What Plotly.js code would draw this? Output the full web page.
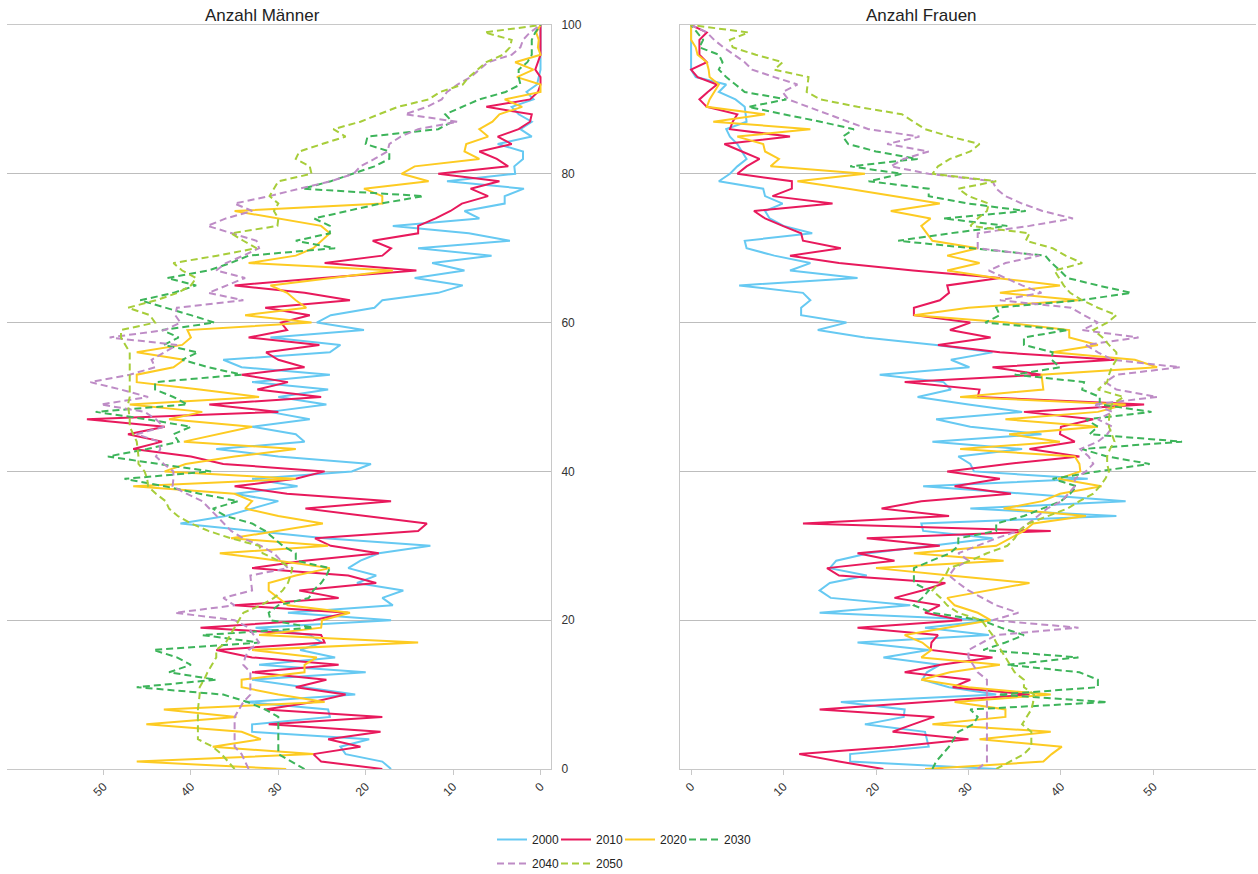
<!DOCTYPE html>
<html><head><meta charset="utf-8">
<script src="https://cdn.plot.ly/plotly-3.0.1.min.js"></script>
<style>html,body{margin:0;padding:0;background:#fff}#chart{width:1258px;height:874px}</style>
</head><body><div id="chart"></div>
<script>
const years = ['2000','2010','2020','2030','2040','2050'];
const colors = ['#66c9f2','#e8195c','#fdcb22','#3db45a','#be8cc6','#a7cd3a'];
const dashes = ['solid','solid','solid','7px,4px','7px,4px','7px,4px'];
const ages = Array.from({length:101},(_, i)=>i);
const xTicks = [0,10,20,30,40,50];
const yTicks = [0,20,40,60,80,100];

const men2000 = [17.1,18.1,22.3,22.9,19.6,33,33,24.1,24.3,33.8,
21.2,27,33,20,32.2,23.5,27.5,25,26.4,32.6,
17.1,28.9,16.9,18.1,15.7,21,18.8,22,20.6,18.5,
12.6,24.7,33,41.2,36,33,30,35,27.8,33,
21.6,19.4,30,37.1,27,28,33,26.4,31,24.5,
30,24.3,33,24.1,34.2,36.3,24.1,22.9,30.9,20.2,
25.6,24,19,18.1,11.7,8.9,14.4,8.7,12.4,5.6,
14,3.5,8.2,16.9,7,8.7,4.1,4.1,1.9,10.7,
2.9,3,2,2,4.9,1,2.3,1,2.5,3.3,
0.8,1.6,0.4,0.2,0,0,0,0,0,0,0];
const men2010 = [18.1,25.1,26,20.6,24.3,18.3,31.1,18.1,31.5,26,
22.3,28,24.5,33,23.1,33,37.1,24.7,25.1,38.9,
26,22,35,23.1,27.6,18.8,22,33,27,18.5,
24,25.8,14,13,20,26.9,17.1,29,35,28,
24.7,36.3,40,46.6,43.3,47.2,43,51.9,30,37.9,
25.1,32.4,28.9,34.2,27,30,31.4,25.3,33.4,29,
29.7,26.4,31.5,21.8,27,35,25,14.2,24.7,18.1,
17.1,19.2,14,14,12,10.3,9,6,8,4.7,
11.7,3.7,5,7,3.3,4.9,2.5,1.2,1,6.2,
1.2,0.3,0,0,0.6,0.3,0,0,0,0,0];
const men2020 = [29.1,46.2,26,37.5,32,34.2,45.1,34.8,43.1,24.7,
30,34.2,34.2,27,27,25.6,33,14,32.2,25.1,
25,21.8,28.9,30,31.1,31.1,28,24.1,30,36.7,
24.3,35.4,30,24.9,30,33.8,33,35,46.6,28,
43,40.6,35,28,40.8,37,33,42.5,38.7,47,
32.2,39,46.2,46.2,42,40.8,46.2,41,40,40.4,
26.2,33.8,26.8,28,29,30.9,24,16.9,33.4,28,
26,25,24.1,25.1,30,35,18.1,18.1,20.2,12.8,
15.9,14.4,7,8.7,8.5,6,7,5.5,4.7,2.1,
4.1,0,0,2.7,0.8,2.9,0,0.3,0.2,0.5,0];
const men2030 = [27,28.5,30,30,30,30,30,30,31.5,33.5,
36.3,46.2,37.1,42.5,40,41.6,44.3,32.2,38.7,26,
30.9,31.1,30,26.5,26,25.1,24.5,24.1,28,28,
29.5,30.5,31.5,33,36,37.5,34.6,39,43,47.6,
37.7,43.7,49.5,45,41.4,42,40,45,50.9,40.4,
42,44.1,44.1,34.2,38,41,39.2,43.1,41.4,43.3,
37.3,40,43,45.8,42,39.4,42.7,38,35.5,33.4,
23.5,28,24.1,24.1,25.9,22,18.3,13.4,27.2,24,
21.6,19,17.3,17.3,20,19.8,11.7,10.1,10.9,9,
7,4,2.3,2.5,2.5,1.5,1,1,1,0.6,0];
const men2040 = [33.4,33.8,34.2,35,35,35,35,35,34.5,34,
33.2,33.2,33.2,33.2,34,33.8,33.4,32.2,32.8,33.4,
35,41.8,35,36.3,33,33.1,33.2,28.9,29.7,30.5,
32,34,35.4,36.2,37,37.8,38.7,40.5,42.1,42,
42,43.1,44,43.5,43.7,46.2,43.1,44,45.3,50.3,
44.9,48,51.5,47,44.1,44.5,43,41.6,49.3,43,
41.2,41.8,41.6,34,38,36,33.8,37.1,36,34,
32.2,32.5,35.4,38.1,36,33,35,31,27.6,24,
21.4,20.6,19,17.5,17.3,16,14,9.5,15.5,13,
11.3,10.7,9.5,8,7,6,3.3,2.3,2,1.2,0];
const men2050 = [35,35.8,36.5,37.5,39.2,39.2,39.2,39.2,39.2,39.1,
39,39,38.5,38.1,37.6,37.1,37.1,36,35.5,35,
34.5,34,32,30.5,29.5,28.9,28.6,28.4,30,31.8,
32.2,35.4,38,40,41.5,42.5,42.9,44,44.9,45,
45.3,46,46,46.1,46.2,46.6,47,47,47.1,47.2,
47,47,47,47,47,47,47,47.5,48,48,
44.1,44.7,47.2,44,41.5,40,39.4,41,42,37,
32.5,34,35.4,30.1,30,30.5,30,31,30.5,30,
26.2,26.4,28,27.6,25,22.3,23.7,20.6,18.5,16.3,
12.8,11.5,8.9,8.2,7.2,6.2,4.3,3.5,3.3,6.4,0];

const women2000 = [33,17.2,17.2,25.7,25.5,25.3,18.8,23,23.1,16.2,
33,27.9,25,25.5,26.9,20.8,25.7,18,32.2,25.3,
32.6,13.9,23.7,15.1,13.9,15,19,15,15.7,19.2,
26,32.6,25.1,24.9,46,30.2,47,36,25.1,42.9,
30.6,30.2,28.9,35.8,26.1,37.9,30.2,26.5,35.8,30,
24.5,28.1,27.3,20.4,30.1,28.1,32.6,26.5,18.8,13.7,
16.8,11.9,11.9,12.9,12.1,5.2,18,10.7,12.9,9,
6,5.8,13.1,10,8.5,8,9.9,8,7.8,3,
4.2,5,6,5.5,5,4.2,3.8,6,5.9,5.8,
4.8,3,3.8,0.5,0,0,0,0,0,0,0];
const women2010 = [20.8,16,11.7,22,30,21.8,24,26.3,13.9,25,
36.6,28.3,30.2,23.1,27,32.6,25.9,26,26.7,18,
29.3,25.3,26.9,22,25,27.5,16,14.7,22,18,
26.9,19,38.9,12.1,27.9,20.6,24.9,34.6,28.5,33.4,
27.7,34.2,42,36.6,41.5,39.9,40,43.5,36,49,
31,31.2,23.1,37.9,32.6,45.8,33.4,26.7,32.4,28,
30.2,24.1,24.1,26.9,27.9,27.7,33.4,24,16,10.7,
16.2,12.1,11.9,9.9,8,6.8,15.3,8.8,10.9,10.9,
5,6,7.4,5.5,3.6,10.7,4.2,4.5,5,1.7,
0.9,1.8,2.8,0.7,0,1.7,0.9,0.9,0.9,1.7,0];
const women2020 = [25.3,38.1,39,40.1,31.2,38.9,26.1,34,34,28.5,
38.9,30,24.9,28,33.4,24.9,26,25,23.1,28,
32.4,31,28.5,27.7,32,36.6,28,20,33.8,24.1,
33,34.5,36,37,42.7,33.8,38,39.9,44.4,39.7,
42.1,42,41.5,29.1,39.9,34.4,44,34,44,47,
29.1,38.1,38,37.9,50.4,48,39.1,44,40.9,40.9,
34.2,24.1,30,41.9,33.4,39.9,33,27.7,31.2,27.7,
31,26.1,25.5,24.9,25.9,21.6,26.9,22,17,11.5,
18.8,8.6,9.5,8,7.8,5,12.9,2.4,8,1.7,
2,2.5,3,2,1.9,1.7,0.7,0.5,0,0,0];
const women2030 = [26.1,26.5,27.2,27.9,28.4,28.9,30.5,31,30.2,45,
33.2,44,44,42,34.2,41.9,31.6,34,36,33.5,
31.4,26.1,24.1,25,25.7,24.1,24.1,24.1,26,28,
28.9,28.9,33,33,36,38,40,41,41.7,39.1,
44,49.6,45,42.3,53.1,43.1,44,42.7,49.8,44.2,
44.2,42.3,42.5,35,39.9,39,39.1,36,36,40.7,
31.8,33.4,33,42.1,47.6,44,40.7,39.9,39,38.3,
30,22.4,28,34.2,27.3,36.2,30,25.7,25.7,19.2,
22.8,17.2,24.5,20,17,16.4,17.6,14,10,6.2,
10.3,5.8,4.8,3.8,3,3.4,3,0.9,1.3,0.6,0];
const women2040 = [31,32,32,32,32,32,32,32,32,32,
32,32,32,31,30.5,30,30,31.5,33,41.9,
32.6,35.4,33,31.5,30,28.9,27.9,28.5,30,28.9,
31,33,35.4,36.5,37.5,38.5,40.1,40.8,41.5,41.5,
42.7,43.5,43,42.1,44,45,45.6,44,45.6,43.5,
50.4,46,44.8,46,52.9,45.6,44,42.7,48.4,42.3,
44,42.5,41.1,33.4,37.9,35.8,34,32.2,34,37.7,
31,31,31,36.6,41.3,38,35.8,34,33,32.6,
25.7,21.6,23,25.7,21.2,24.7,19.2,17,14.8,12.7,
10.5,9.9,11.5,9,6.6,5.8,4.6,3.5,2.5,1.7,0];
const women2050 = [33,34.5,36,36.8,36.8,36.8,35.8,36.3,36.8,37,
37.1,36,36,35,34.5,34,33.5,33,32.6,32,
31.4,28.9,27.7,27,26.1,26.8,27.5,27.9,30.2,32,
34.2,35,35.5,36.5,38.5,40.7,42,43.5,44.2,44.8,
45.2,45,45,45.3,45.8,45.5,45.2,45.2,45.3,45.5,
46.8,44,45,45.2,45.5,46,46,45.2,44.5,43.5,
45,46,44,42.3,41,40.3,39.8,39.3,42.3,40.5,
39.1,36.2,36.6,30.2,31,32,32.2,30,28.9,33,
26.1,26.7,28,30.2,31.2,28,25.3,24,22.8,18,
14,12.5,12.6,12.7,9,9.9,7,4.5,4.2,6.2,0];

const menSeries = [men2000,men2010,men2020,men2030,men2040,men2050];
const womenSeries = [women2000,women2010,women2020,women2030,women2040,women2050];

const traces = [];
years.forEach((yr,i)=>{
  const line = {color:colors[i], width:2, dash:dashes[i]};
  const lastInRow = (i === 3 || i === 5);
  const t = {x:menSeries[i], y:ages, xaxis:'x', yaxis:'y', type:'scatter', mode:'lines', name:yr,
    line:line, legend: i<4 ? 'legend' : 'legend2', legendgroup:yr, showlegend:true, hoverinfo:'skip'};
  if (lastInRow) t.legendwidth = 40;
  traces.push(t);
  traces.push({x:womenSeries[i], y:ages, xaxis:'x2', yaxis:'y2', type:'scatter', mode:'lines', name:yr,
    line:line, legendgroup:yr, showlegend:false, hoverinfo:'skip'});
});

const W = 1258, H = 874;
const axisLine = '#c8c8c8';
const xCommon = {tickvals:xTicks, tickangle:-45, showgrid:false, zeroline:false, showline:true, mirror:true,
  linecolor:axisLine, linewidth:1, ticks:'outside', ticklen:5, tickcolor:axisLine,
  tickfont:{size:12, color:'#333'}, fixedrange:true};
const yCommon = {range:[0,100], tickvals:yTicks, showgrid:true, gridcolor:'#bdbdbd', gridwidth:1, zeroline:false,
  showline:true, linecolor:axisLine, linewidth:1, ticks:'', fixedrange:true};

const legendCommon = {orientation:'h', xref:'container', yref:'container', xanchor:'left', yanchor:'top',
  entrywidth:19, entrywidthmode:'pixels', font:{size:12, color:'#222'}, bgcolor:'rgba(0,0,0,0)', traceorder:'normal'};

const layout = {
  width:W, height:H, margin:{l:0, r:0, t:25, b:105, pad:0},
  paper_bgcolor:'#fff', plot_bgcolor:'#fff',
  font:{family:'Liberation Sans, Arial, sans-serif', size:12, color:'#333'},
  xaxis:Object.assign({}, xCommon, {domain:[6.5/W, 551/W], range:[61.1,-1.2], anchor:'y'}),
  yaxis:Object.assign({}, yCommon, {domain:[0,1], side:'right', anchor:'x', showticklabels:true,
    tickfont:{size:12, color:'#333'}, ticklabelstandoff:7}),
  xaxis2:Object.assign({}, xCommon, {domain:[680/W, 1256/W], range:[-1.2,61.1], anchor:'y2'}),
  yaxis2:Object.assign({}, yCommon, {domain:[0,1], side:'left', anchor:'x2', showticklabels:false}),
  legend:Object.assign({}, legendCommon, {x:492/W, y:1-825/H}),
  legend2:Object.assign({}, legendCommon, {x:492/W, y:1-849/H}),
  showlegend:true,
  annotations:[
    {text:'Anzahl Männer', xref:'paper', yref:'paper', x:262/W, y:(769-15)/744, xanchor:'center', yanchor:'middle',
     showarrow:false, font:{size:17, color:'#222'}},
    {text:'Anzahl Frauen', xref:'paper', yref:'paper', x:921/W, y:(769-15)/744, xanchor:'center', yanchor:'middle',
     showarrow:false, font:{size:17, color:'#222'}}
  ]
};

Plotly.newPlot('chart', traces, layout, {displayModeBar:false, staticPlot:true});
</script>
</body></html>
